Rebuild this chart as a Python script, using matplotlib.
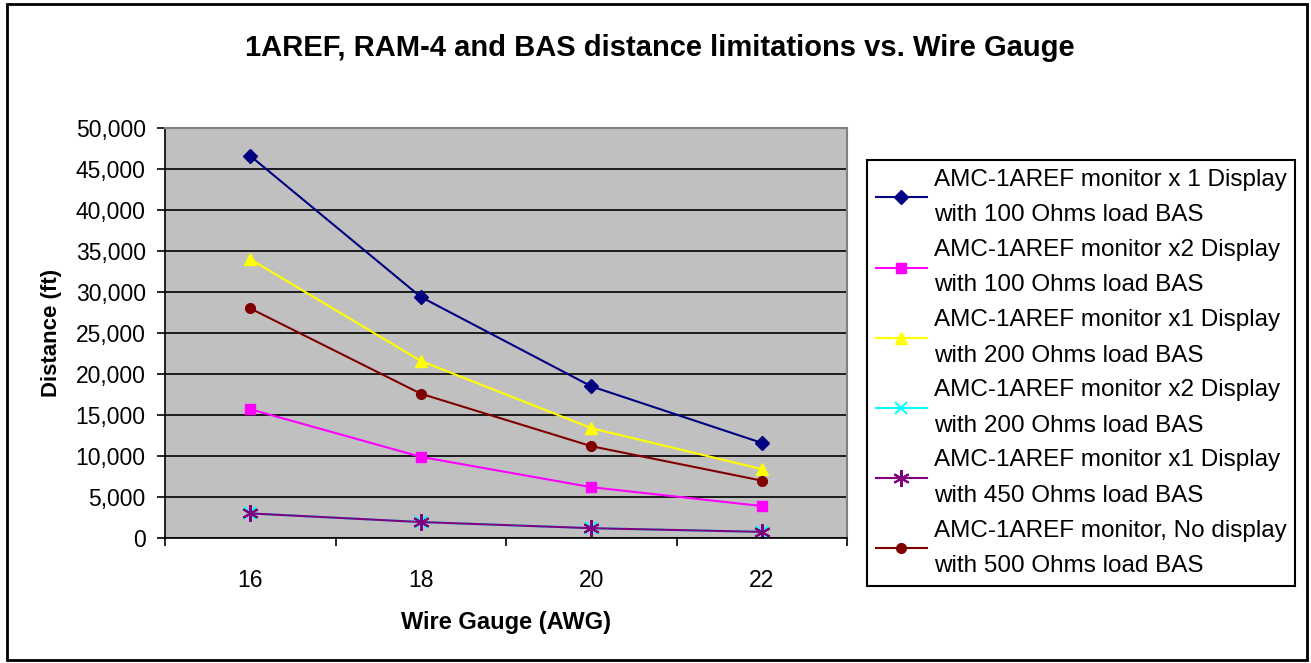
import matplotlib.pyplot as plt
from matplotlib.patches import Rectangle
from matplotlib.ticker import FuncFormatter

plt.rcParams['font.family'] = ['Liberation Sans', 'DejaVu Sans']

gauges = ["16", "18", "20", "22"]

x1_100 = [46600, 29400, 18500, 11600]
x2_100 = [15700, 9900, 6200, 3900]
x1_200 = [34000, 21600, 13400, 8400]
x2_200 = [3000, 1950, 1200, 750]
x1_450 = [3000, 1950, 1200, 750]
nodisp_500 = [28000, 17600, 11200, 7000]

labels = [
    "AMC-1AREF monitor x 1 Display\nwith 100 Ohms load BAS",
    "AMC-1AREF monitor x2 Display\nwith 100 Ohms load BAS",
    "AMC-1AREF monitor x1 Display\nwith 200 Ohms load BAS",
    "AMC-1AREF monitor x2 Display\nwith 200 Ohms load BAS",
    "AMC-1AREF monitor x1 Display\nwith 450 Ohms load BAS",
    "AMC-1AREF monitor, No display\nwith 500 Ohms load BAS",
]

fig = plt.figure(figsize=(13.11, 6.63), dpi=100)
ax = fig.add_axes([0.1259, 0.1885, 0.5202, 0.6184])
ax.set_facecolor("#c0c0c0")

xs = [i + 0.5 for i in range(len(gauges))]

series = [
    (x1_100, "#000080", "D", 7),
    (x2_100, "#ff00ff", "s", 7),
    (x1_200, "#ffff00", "^", 8),
    (x2_200, "#00ffff", "x", 8),
    (x1_450, "#800080", (6, 2, 0), 12),
    (nodisp_500, "#800000", "o", 7),
]
handles = []
for (vals, col, mk, ms), lab in zip(series, labels):
    h, = ax.plot(xs, vals, color=col, marker=mk, markersize=ms, lw=1.5,
                 markeredgewidth=1.5 if mk in ("x", (6, 2, 0)) else 1,
                 markeredgecolor=col, label=lab)
    handles.append(h)

ax.set_xlim(0, 4)
ax.set_ylim(0, 50000)
ax.set_yticks(range(0, 50001, 5000))
ax.yaxis.set_major_formatter(FuncFormatter(lambda v, p: f"{int(v):,}"))
ax.grid(axis="y", color="black", lw=1.2)
ax.set_axisbelow(True)

ax.set_xticks(xs)
ax.set_xticklabels(gauges)
ax.set_xticks(range(5), minor=True)
ax.tick_params(axis="x", which="major", length=0, pad=22, labelsize=16.5)
ax.tick_params(axis="x", which="minor", length=6, width=1.2, direction="out")
ax.tick_params(axis="y", length=6, width=1.2, direction="out", labelsize=16.5, pad=8)

for s in ["top", "right"]:
    ax.spines[s].set_color("#808080")
    ax.spines[s].set_linewidth(1.5)
for s in ["left", "bottom"]:
    ax.spines[s].set_color("black")
    ax.spines[s].set_linewidth(1.2)

ax.set_xlabel("Wire Gauge (AWG)", fontsize=17, fontweight="bold", labelpad=14)
ax.set_ylabel("Distance (ft)", fontsize=16, fontweight="bold", labelpad=10)

fig.text(0.503, 0.928, "1AREF, RAM-4 and BAS distance limitations vs. Wire Gauge",
         ha="center", va="center", fontsize=21, fontweight="bold")

leg = fig.legend(handles=handles, loc="upper left",
                 bbox_to_anchor=(867 / 1311, 1 - 160 / 663),
                 fontsize=17.5, frameon=True, fancybox=False, edgecolor="black",
                 framealpha=1, handlelength=2.1, handletextpad=0.3,
                 labelspacing=0.52, borderpad=0.35, borderaxespad=0)
leg.get_frame().set_linewidth(1.5)
for t in leg.get_texts():
    t.set_linespacing(1.8)

fig.patches.append(Rectangle((0.005, 0.004), 0.992, 0.99, transform=fig.transFigure,
                             fill=False, edgecolor="black", lw=2))

fig.savefig("out.png", dpi=100)
